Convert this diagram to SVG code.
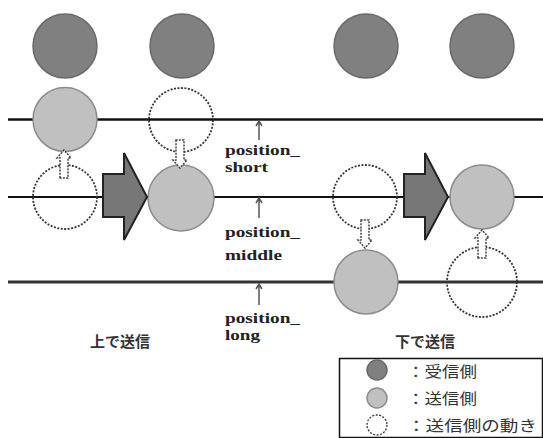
<svg xmlns="http://www.w3.org/2000/svg" width="543" height="438" viewBox="0 0 543 438">
<defs>
<style>
.rx{fill:#808080;stroke:#6a6a6a;stroke-width:1.5}
.tx{fill:#c0c0c0;stroke:#8c8c8c;stroke-width:1.5}
.mv{fill:none;stroke:#333;stroke-width:1.8;stroke-dasharray:2 1.5}
.mvw{fill:#fff;stroke:#333;stroke-width:1.8;stroke-dasharray:2 1.5}
.da{fill:#fff;stroke:#444;stroke-width:1.5;stroke-dasharray:2 1.2}
.big{fill:#777;stroke:#222;stroke-width:2;stroke-linejoin:miter}
.ln{stroke:#111;fill:none}
.pl{font-family:"Liberation Serif",serif;font-weight:bold;font-size:15px;fill:#222}
.cap{font-family:"Noto Sans CJK JP","Liberation Sans",sans-serif;font-weight:bold;font-size:15px;fill:#333}
.lg{font-family:"Noto Sans CJK JP","Liberation Sans",sans-serif;font-size:15px;fill:#333}
.up{stroke:#555;stroke-width:1.5;fill:none}
</style>
<path id="upArr" d="M-4,0 L-4,-20 L-7,-20 L0,-28 L7,-20 L4,-20 L4,0 Z"/>
</defs>
<rect width="543" height="438" fill="#fff"/>
<g id="connectors">
<line class="ln" x1="8" y1="119.5" x2="543" y2="119.5" stroke-width="2.5"/>
<line class="ln" x1="8" y1="197" x2="543" y2="197" stroke-width="2"/>
<line class="ln" x1="8" y1="282" x2="543" y2="282" stroke-width="3" style="stroke:#333"/>
<path class="up" d="M259,140 L259,122 M256,126 L259,121 L262,126"/>
<path class="up" d="M259,218 L259,199 M256,203 L259,198 L262,203"/>
<path class="up" d="M259,305 L259,285 M256,289 L259,284 L262,289"/>
</g>
<g id="receiver-1"><circle class="rx" cx="65" cy="46" r="32"/></g>
<g id="receiver-2"><circle class="rx" cx="182" cy="46" r="32"/></g>
<g id="receiver-3"><circle class="rx" cx="366" cy="46" r="32"/></g>
<g id="receiver-4"><circle class="rx" cx="482" cy="46" r="32"/></g>
<g id="col1">
<circle class="tx" cx="65" cy="119.5" r="32"/>
<circle class="mv" cx="65" cy="197" r="32"/>
<use href="#upArr" class="da" transform="translate(64,178)"/>
</g>
<g id="col2">
<circle class="mvw" cx="181" cy="120" r="32"/>
<line class="ln" x1="149" y1="119.5" x2="213" y2="119.5" stroke-width="2.5"/>
<circle class="tx" cx="181" cy="198" r="33"/>
<use href="#upArr" class="da" transform="translate(180,140) scale(1,-1)"/>
</g>
<g id="col3">
<circle class="mv" cx="365" cy="197" r="32"/>
<circle class="tx" cx="366" cy="282" r="32"/>
<use href="#upArr" class="da" transform="translate(365,220) scale(1,-1)"/>
</g>
<g id="col4">
<circle class="tx" cx="482" cy="197" r="32"/>
<circle class="mv" cx="482" cy="282" r="35"/>
<use href="#upArr" class="da" transform="translate(482,258)"/>
</g>
<g id="bigArrow-1"><path class="big" d="M103,174 L124,174 L124,153 L147,197 L124,240 L124,217 L103,217 Z"/></g>
<g id="bigArrow-2"><path class="big" d="M404,174 L425,174 L425,153 L448,197 L425,240 L425,217 L404,217 Z"/></g>
<g id="labels">
<text class="pl" x="225" y="155" textLength="75" lengthAdjust="spacingAndGlyphs">position_</text>
<text class="pl" x="225" y="172" textLength="43" lengthAdjust="spacingAndGlyphs">short</text>
<text class="pl" x="225" y="237" textLength="75" lengthAdjust="spacingAndGlyphs">position_</text>
<text class="pl" x="225" y="260" textLength="57" lengthAdjust="spacingAndGlyphs">middle</text>
<text class="pl" x="225" y="323" textLength="75" lengthAdjust="spacingAndGlyphs">position_</text>
<text class="pl" x="225" y="340" textLength="35" lengthAdjust="spacingAndGlyphs">long</text>
<text class="cap" x="120" y="347" text-anchor="middle">上で送信</text>
<text class="cap" x="425" y="347" text-anchor="middle">下で送信</text>
</g>
<g id="legend">
<rect x="339.5" y="358.5" width="203" height="79" fill="#fff" stroke="#111" stroke-width="1.5"/>
<circle class="rx" cx="377" cy="370" r="10"/>
<circle class="tx" cx="377" cy="398" r="10"/>
<circle class="mv" cx="377" cy="425" r="10" style="stroke-width:1.3"/>
<text class="lg" x="407" y="377" textLength="70" lengthAdjust="spacingAndGlyphs">：受信側</text>
<text class="lg" x="407" y="404" textLength="70" lengthAdjust="spacingAndGlyphs">：送信側</text>
<text class="lg" x="407" y="431" textLength="130" lengthAdjust="spacingAndGlyphs">：送信側の動き</text>
</g>
</svg>
